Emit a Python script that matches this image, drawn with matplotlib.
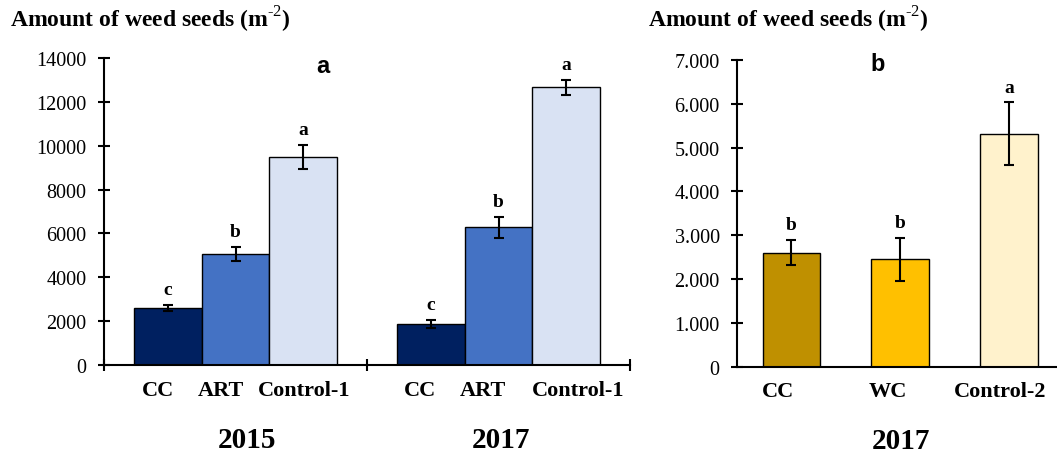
import matplotlib
matplotlib.use("Agg")
import matplotlib.pyplot as plt
import matplotlib.transforms as mtransforms

plt.rcParams["font.family"] = "Liberation Serif"
plt.rcParams["mathtext.fontset"] = "custom"
plt.rcParams["mathtext.rm"] = "Liberation Serif"
plt.rcParams["mathtext.bf"] = "Liberation Serif:bold"

# panel a data
years_a = ["2015", "2017"]
treat_a = ["CC", "ART", "Control-1"]
mean_2015 = [2600, 5050, 9470]
err_2015 = [130, 320, 550]
mean_2017 = [1870, 6280, 12660]
err_2017 = [170, 490, 350]
letters_2015 = ["c", "b", "a"]
letters_2017 = ["c", "b", "a"]
colors_a = ["#002060", "#4472C4", "#D9E2F3"]

# panel b data
treat_b = ["CC", "WC", "Control-2"]
mean_b = [2600, 2450, 5320]
err_b = [290, 490, 710]
letters_b = ["b", "b", "a"]
colors_b = ["#BF9000", "#FFC000", "#FFF2CC"]
ticks_b = [0, 1000, 2000, 3000, 4000, 5000, 6000, 7000]

# label positions as they sit in the original (not centred on the bars)
label_x_a = [0.205, 0.445, 0.760, 1.200, 1.441, 1.802]
year_x_a = [0.544, 1.510]
label_x_b = [-0.12, 0.89, 1.92]
year_x_b = 1.01

W, H = 1057, 456
fig = plt.figure(figsize=(W / 100, H / 100), dpi=100)

ax1 = fig.add_axes([104 / W, 1 - 366 / H, 526 / W, 307 / H])
ax2 = fig.add_axes([737 / W, 1 - 367.7 / H, 320 / W, 306.7 / H])

for ax in (ax1, ax2):
    for s in ("top", "right"):
        ax.spines[s].set_visible(False)
    for s in ("left", "bottom"):
        ax.spines[s].set_linewidth(1.5)
    ax.tick_params(axis="y", direction="inout", length=9, width=1.5, labelsize=14.5, pad=8)

# panel a
bw = 0.257
for g, (means, errs, lets) in enumerate([(mean_2015, err_2015, letters_2015),
                                         (mean_2017, err_2017, letters_2017)]):
    for i in range(3):
        x = g + 0.5 + (i - 1) * bw
        ax1.bar(x, means[i], width=bw, color=colors_a[i], edgecolor="black", linewidth=1)
        ax1.errorbar(x, means[i], yerr=errs[i], fmt="none", ecolor="black",
                     elinewidth=1.5, capsize=3.5, capthick=1.5)
        ax1.annotate(lets[i], (x, means[i] + errs[i]), xytext=(0, 5),
                     textcoords="offset points", ha="center", va="bottom",
                     fontsize=14, fontweight="bold")
ax1.set_xlim(0, 2)
ax1.set_ylim(0, 14000)
ax1.set_yticks(range(0, 14001, 2000))
ax1.set_xticks([0, 1, 2])
ax1.set_xticklabels([])
ax1.tick_params(axis="x", direction="inout", length=9, width=1.5)
ax1.set_xticks(label_x_a, minor=True)
ax1.set_xticklabels(treat_a * 2, minor=True, fontsize=16, fontweight="bold")
ax1.tick_params(axis="x", which="minor", length=0, pad=10.5)
trans1 = mtransforms.blended_transform_factory(ax1.transData, ax1.transAxes)
for g, yr in enumerate(years_a):
    ax1.text(year_x_a[g], -75 / 307, yr, transform=trans1, ha="center", va="center",
             fontsize=21, fontweight="bold")
ax1.text(0.416, 0.974, "a", transform=ax1.transAxes, ha="center", va="center",
         fontsize=17, fontweight="bold", family="Liberation Sans")

# panel b
bwb = 0.53
xb = list(range(3))
ax2.bar(xb, mean_b, width=bwb, color=colors_b, edgecolor="black", linewidth=1)
ax2.errorbar(xb, mean_b, yerr=err_b, fmt="none", ecolor="black",
             elinewidth=1.5, capsize=3.5, capthick=1.5)
for i in xb:
    ax2.annotate(letters_b[i], (i, mean_b[i] + err_b[i]), xytext=(0, 5),
                 textcoords="offset points", ha="center", va="bottom",
                 fontsize=14, fontweight="bold")
ax2.set_xlim(-0.5, 2.44)
ax2.set_ylim(0, 7000)
ax2.set_yticks(ticks_b)
ax2.set_yticklabels([f"{t:,}".replace(",", ".") for t in ticks_b])
ax2.set_xticks(label_x_b)
ax2.set_xticklabels(treat_b, fontsize=16, fontweight="bold")
ax2.tick_params(axis="x", length=0, pad=10.5)
trans2 = mtransforms.blended_transform_factory(ax2.transData, ax2.transAxes)
ax2.text(year_x_b, -73.5 / 306.7, "2017", transform=trans2, ha="center", va="center",
         fontsize=21, fontweight="bold")
ax2.text(0.438, 0.987, "b", transform=ax2.transAxes, ha="center", va="center",
         fontsize=17, fontweight="bold", family="Liberation Sans")

label = r"Amount of weed seeds (m$^{\text{-2}}$)"
fig.text(10 / W, 1 - 20 / H, label, ha="left", va="center", fontsize=17, fontweight="bold")
fig.text(648 / W, 1 - 20 / H, label, ha="left", va="center", fontsize=17, fontweight="bold")

fig.savefig("out.png", dpi=100)
